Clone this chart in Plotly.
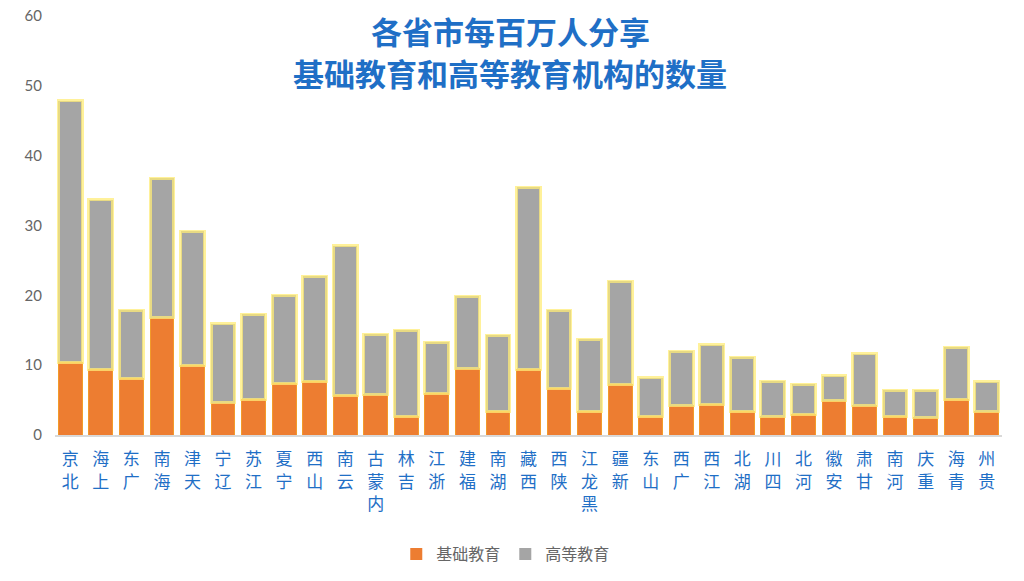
import plotly.graph_objects as go

provinces = ["北京", "上海", "广东", "海南", "天津", "辽宁", "江苏", "宁夏", "山西", "云南",
             "内蒙古", "吉林", "浙江", "福建", "湖南", "西藏", "陕西", "黑龙江", "新疆", "山东",
             "广西", "江西", "湖北", "四川", "河北", "安徽", "甘肃", "河南", "重庆", "青海", "贵州"]
basic_edu = [10.4, 9.4, 8.1, 16.8, 10.0, 4.6, 5.1, 7.4, 7.7, 5.7,
             5.8, 2.7, 6.0, 9.5, 3.4, 9.4, 6.7, 3.4, 7.3, 2.7,
             4.2, 4.4, 3.4, 2.6, 3.0, 4.9, 4.2, 2.7, 2.5, 5.1, 3.3]
higher_edu = [37.5, 24.3, 9.8, 20.0, 19.2, 11.3, 12.2, 12.6, 15.0, 21.4,
              8.6, 12.3, 7.3, 10.4, 10.9, 26.1, 11.2, 10.3, 14.7, 5.5,
              7.8, 8.5, 7.7, 5.1, 4.3, 3.6, 7.4, 3.7, 3.9, 7.5, 4.3]
y_ticks = [0, 10, 20, 30, 40, 50, 60]
series_names = ["基础教育", "高等教育"]
series_colors = ["#ED7D31", "#A5A5A5"]
title_lines = ["各省市每百万人分享", "基础教育和高等教育机构的数量"]

# Vertical labels: read bottom-to-top with upright characters
tick_text = ["<br>".join(reversed(list(p))) for p in provinces]

fig = go.Figure()
fig.add_trace(go.Bar(
    x=provinces, y=basic_edu, name=series_names[0], showlegend=False,
    marker=dict(color=series_colors[0], line=dict(color="#F39A2A", width=1)),
))
fig.add_trace(go.Bar(
    x=provinces, y=higher_edu, name=series_names[1], showlegend=False,
    marker=dict(color=series_colors[1], line=dict(color="rgba(255,236,120,0.75)", width=3)),
))
# legend entries (plain squares, as in the reference legend)
for name, col in zip(series_names, series_colors):
    fig.add_trace(go.Bar(x=[None], y=[None], name=name, showlegend=True,
                         marker=dict(color=col, line=dict(width=0))))

blue = "#1F6FC6"
fig.update_layout(
    barmode="stack",
    bargap=0.22,
    width=1024, height=581,
    margin=dict(l=47, r=30, t=8, b=154, autoexpand=False),
    paper_bgcolor="white", plot_bgcolor="white",
    showlegend=True,
    legend=dict(orientation="h", x=0.476, xanchor="center", y=-0.284, yanchor="middle",
                font=dict(family="Noto Sans CJK SC", size=16, color="#666666"),
                itemwidth=30, traceorder="normal"),
    font=dict(family="Noto Sans CJK SC"),
)
fig.update_xaxes(
    tickmode="array", tickvals=provinces, ticktext=tick_text,
    tickfont=dict(family="Noto Sans CJK SC", size=17, color=blue),
    showline=True, linecolor="#D9D9D9", linewidth=2,
    showgrid=False, ticks="", ticklabelstandoff=8, automargin=False,
)
fig.update_yaxes(
    range=[0, 60], tickvals=y_ticks, showgrid=False, zeroline=False, showline=False,
    tickfont=dict(family="Lato", size=15, color="#666666"),
    ticklabelstandoff=12, automargin=False, ticklabeloverflow="allow",
)
fig.add_annotation(text=title_lines[0], xref="paper", yref="paper", x=0.4805, y=0.966,
                   showarrow=False, xanchor="center", yanchor="middle",
                   font=dict(family="Noto Sans CJK SC", size=31, color=blue, weight="bold"))
fig.add_annotation(text=title_lines[1], xref="paper", yref="paper", x=0.4805, y=0.866,
                   showarrow=False, xanchor="center", yanchor="middle",
                   font=dict(family="Noto Sans CJK SC", size=31, color=blue, weight="bold"))

fig.write_html("out.html")
